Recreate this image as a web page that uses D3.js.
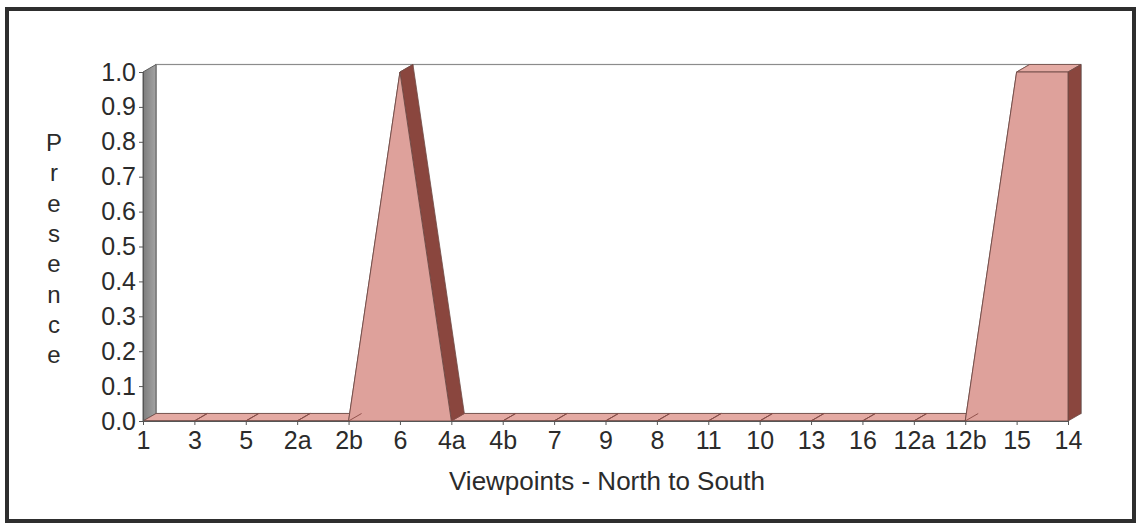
<!DOCTYPE html>
<html>
<head>
<meta charset="utf-8">
<script src="https://cdn.jsdelivr.net/npm/d3@7"></script>
<style>
  html, body { margin: 0; padding: 0; background: #fff; }
  svg { display: block; }
  text { font-family: "Liberation Sans", Arial, sans-serif; fill: #2b2b2b; }
</style>
</head>
<body>
<svg id="chart" width="1141" height="526"></svg>
<script>
// ---- data ----
const categories = ["1","3","5","2a","2b","6","4a","4b","7","9","8","11","10","13","16","12a","12b","15","14"];
const presence   = [0,0,0,0,0,1,0,0,0,0,0,0,0,0,0,0,0,1,1];
const yTicks     = [0,0.1,0.2,0.3,0.4,0.5,0.6,0.7,0.8,0.9,1.0];
const xTitle     = "Viewpoints - North to South";
const yTitle     = "Presence";

// ---- layout ----
const svg = d3.select("#chart");
const x = d3.scalePoint().domain(categories).range([143, 1068]);
const y = d3.scaleLinear().domain([0, 1]).range([421, 72]);
const dx = 13, dy = -7.5;   // 3D depth offset

const cFront = "#dea19b", cTop = "#e4aaa3", cSide = "#8a463e", cEdge = "#6e4a45";

// outer frame
svg.append("rect").attr("x", 7).attr("y", 9).attr("width", 1127).attr("height", 512)
  .attr("fill", "#fff").attr("stroke", "#2e2e2e").attr("stroke-width", 4);

const x0 = x(categories[0]), xN = x(categories[categories.length - 1]);
const yb = y(0), yt = y(1);

// back wall
svg.append("rect").attr("x", x0 + dx).attr("y", yt + dy)
  .attr("width", xN - x0).attr("height", yb - yt)
  .attr("fill", "#fff").attr("stroke", "#8c8c8c").attr("stroke-width", 1.2);

// left side wall (gray)
const grad = svg.append("defs").append("linearGradient").attr("id", "wallg")
  .attr("x1", 0).attr("x2", 1).attr("y1", 0).attr("y2", 0);
grad.append("stop").attr("offset", 0).attr("stop-color", "#7d7d7d");
grad.append("stop").attr("offset", 1).attr("stop-color", "#a3a3a3");
svg.append("polygon")
  .attr("points", [[x0, yb], [x0, yt], [x0 + dx, yt + dy], [x0 + dx, yb + dy]].map(p => p.join(",")).join(" "))
  .attr("fill", "url(#wallg)").attr("stroke", "#5e5e5e").attr("stroke-width", 1);

// series faces
const pts = categories.map((c, i) => [x(c), y(presence[i])]);
const g = svg.append("g");
for (let i = 0; i < pts.length - 1; i++) {
  const a = pts[i], b = pts[i + 1];
  let fill;
  if (Math.abs(a[1] - b[1]) < 0.01) fill = cTop;
  else if (b[1] > a[1]) fill = cSide;   // descending -> visible side face
  else fill = cFront;                    // ascending -> hidden behind front face
  g.append("polygon")
    .attr("points", [a, b, [b[0] + dx, b[1] + dy], [a[0] + dx, a[1] + dy]].map(p => p.join(",")).join(" "))
    .attr("fill", fill).attr("stroke", cEdge).attr("stroke-width", 0.8).attr("stroke-linejoin", "round");
}
// right end face
const last = pts[pts.length - 1];
g.append("polygon")
  .attr("points", [last, [last[0] + dx, last[1] + dy], [last[0] + dx, yb + dy], [last[0], yb]].map(p => p.join(",")).join(" "))
  .attr("fill", cSide).attr("stroke", cEdge).attr("stroke-width", 0.8);

// front face
const area = d3.area().x(d => d[0]).y0(yb).y1(d => d[1]);
g.append("path").attr("d", area(pts))
  .attr("fill", cFront).attr("stroke", cEdge).attr("stroke-width", 0.9).attr("stroke-linejoin", "round");

// depth grid marks on zero strips
categories.forEach((c, i) => {
  if (i === 0) return;
  if (presence[i] === 0) {
    g.append("line").attr("x1", x(c)).attr("y1", yb).attr("x2", x(c) + dx).attr("y2", yb + dy)
      .attr("stroke", "#8a4a44").attr("stroke-width", 0.9);
  }
});

// axes
const yAxis = svg.append("g").attr("transform", `translate(${x0},0)`)
  .call(d3.axisLeft(y).tickValues(yTicks).tickFormat(d3.format(".1f")).tickSize(4).tickPadding(3));
yAxis.select(".domain").attr("stroke", "#555");
yAxis.selectAll(".tick line").attr("stroke", "#555");
yAxis.selectAll("text").style("font-size", "25px").style("fill", "#2b2b2b");

const xAxis = svg.append("g").attr("transform", `translate(0,${yb})`)
  .call(d3.axisBottom(x).tickSize(4).tickPadding(6));
xAxis.select(".domain").attr("stroke", "#555");
xAxis.selectAll(".tick line").attr("stroke", "#555");
xAxis.selectAll("text").style("font-size", "25px").style("fill", "#2b2b2b");

// titles
svg.append("text").attr("x", 607).attr("y", 490).attr("text-anchor", "middle")
  .style("font-size", "26px").text(xTitle);

const yt0 = 151, ystep = 30.3;
svg.append("text").attr("text-anchor", "middle").style("font-size", "24px")
  .selectAll("tspan").data(yTitle.split("")).join("tspan")
  .attr("x", 54).attr("y", (d, i) => yt0 + i * ystep).text(d => d);
</script>
</body>
</html>
